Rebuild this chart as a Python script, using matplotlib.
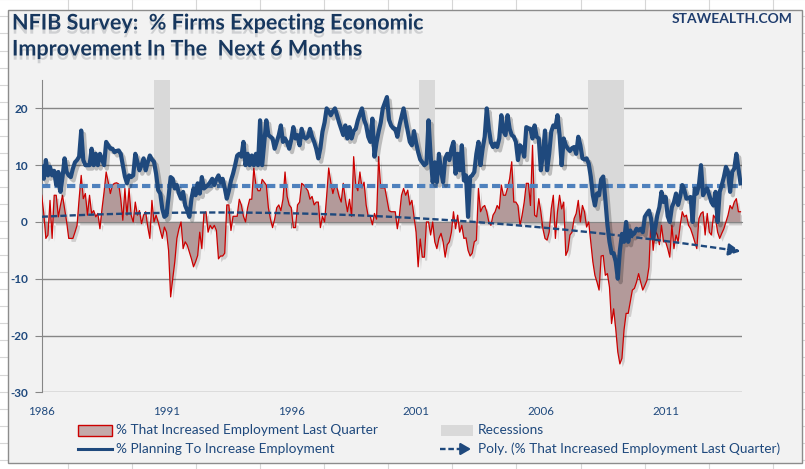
import numpy as np
import matplotlib
matplotlib.use("Agg")
import matplotlib.pyplot as plt
import matplotlib.patheffects as pe
from matplotlib.patches import Rectangle
from matplotlib.lines import Line2D

plt.rcParams['axes.unicode_minus'] = False
plt.rcParams['lines.scale_dashes'] = False

# monthly NFIB readings, Jan 1986 .. Jan 2014
start_year = 1986
planning_to_hire = [
    9.7, 7.6, 10.9, 8.2, 9.7, 8.2, 9.0, 6.5, 8.8, 5.3, 7.9, 11.2,
    8.8, 8.2, 7.9, 9.4, 10.5, 10.9, 11.5, 16.1, 10.9, 10.0, 10.0, 10.0,
    12.9, 10.0, 12.0, 10.0, 12.0, 11.0, 10.0, 14.1, 13.5, 12.9, 12.9, 12.3,
    12.5, 12.6, 12.0, 10.0, 8.0, 6.8, 8.2, 7.9, 8.2, 12.0, 10.6, 9.1,
    10.0, 11.2, 9.1, 10.5, 11.7, 11.0, 10.6, 8.5, 5.6, 5.0, 2.3, 0.9,
    1.2, 4.4, 7.9, 7.6, 5.9, 6.5, 5.0, 4.1, 5.3, 2.9, 2.0, 0.9,
    4.1, 5.9, 4.7, 6.8, 5.0, 7.9, 5.9, 6.2, 6.5, 7.0, 7.6, 6.5,
    7.5, 8.2, 7.0, 7.6, 6.0, 4.1, 5.5, 7.3, 8.5, 10.0, 11.7, 12.0,
    11.5, 14.1, 10.0, 12.0, 10.0, 11.7, 10.0, 12.0, 10.0, 17.9, 10.0, 14.0,
    17.9, 15.3, 15.0, 14.7, 12.9, 14.1, 15.3, 17.0, 14.1, 14.7, 14.0, 12.9,
    14.5, 16.7, 14.7, 15.3, 13.5, 16.4, 15.0, 14.7, 15.0, 16.4, 15.0, 14.1,
    12.9, 11.2, 13.0, 15.9, 17.5, 20.0, 19.5, 18.8, 19.5, 20.0, 18.8, 17.5,
    16.4, 15.3, 17.0, 14.7, 16.7, 14.7, 16.0, 16.4, 17.9, 19.0, 20.0, 18.0,
    17.0, 15.0, 14.1, 18.2, 11.5, 14.0, 15.9, 17.5, 20.0, 21.0, 22.0, 18.0,
    17.0, 16.5, 16.4, 15.0, 17.0, 18.5, 20.0, 17.9, 16.0, 14.1, 13.5, 16.0,
    14.0, 12.3, 11.0, 10.5, 10.0, 10.3, 17.9, 11.7, 7.0, 10.5, 7.0, 12.0,
    9.0, 7.0, 11.2, 12.0, 10.9, 12.9, 14.1, 8.5, 12.0, 9.1, 13.5, 7.3,
    8.2, 0.9, 7.9, 8.2, 8.8, 12.0, 14.1, 10.0, 12.9, 15.0, 20.0, 16.4,
    14.0, 13.2, 13.8, 13.2, 14.7, 18.8, 16.0, 15.3, 18.8, 16.4, 15.3, 15.0,
    14.1, 10.9, 13.5, 13.0, 11.5, 16.7, 16.5, 16.4, 14.7, 17.0, 15.0, 14.7,
    9.1, 12.0, 16.1, 9.1, 12.0, 15.9, 17.0, 16.7, 18.8, 15.3, 10.0, 14.7,
    13.5, 12.9, 12.5, 13.0, 13.2, 12.0, 15.0, 13.5, 11.2, 11.0, 11.2, 10.3,
    8.0, 4.7, 2.9, 5.0, 4.7, 7.5, 8.0, 4.0, -0.5, -3.5, -5.5, -5.5,
    -7.0, -10.0, -5.0, -2.1, -3.5, 0.0, -3.5, -1.5, -2.3, -2.0, -1.2, -1.5,
    -1.2, -1.8, 0.9, 1.5, 2.0, 0.6, -2.9, -1.0, 1.2, 2.6, 5.3, 3.5,
    4.4, 1.0, 0.0, 2.6, 3.5, 5.0, 3.0, 4.5, 6.5, 5.6, 4.1, 4.2,
    4.4, 0.0, 5.9, 5.0, 6.5, 10.0, 4.7, 5.5, 5.9, 4.7, 3.5, 2.9,
    5.3, 0.0, 5.3, 6.5, 7.9, 9.7, 8.8, 5.3, 8.8, 9.4, 12.0, 9.4,
    6.8,
]
increased_last_qtr = [
    4.7, 1.5, -2.9, -2.3, 3.8, -2.9, 4.7, 4.7, 0.9, 2.9, 4.7, 2.3,
    0.0, -2.9, -2.9, -2.9, -1.8, -0.6, 4.1, 8.2, 4.1, 5.0, 1.2, 4.7,
    1.5, 2.0, 0.9, 1.5, -1.2, 2.3, 5.3, 8.8, 7.0, 5.0, 6.5, 6.8,
    6.9, 6.7, 4.1, 0.3, 5.9, 1.2, 5.9, 1.2, 0.0, 3.5, 1.2, 2.0,
    -0.3, 1.2, 1.8, -0.9, -2.9, 3.8, 0.0, 1.2, 0.0, -1.5, -2.9, -0.9,
    -1.8, -5.0, -13.2, -10.0, -7.0, -2.9, -1.2, 0.0, -4.7, -3.5, -4.1, -5.3,
    -6.5, -7.9, -7.0, -5.9, -1.8, -4.7, 1.5, 1.8, -1.8, -0.6, -1.2, -0.6,
    -1.5, -6.5, -6.0, -6.0, -5.5, 3.0, 3.0, -1.5, 1.0, 1.0, 1.0, 4.0,
    3.0, 1.0, 0.0, 2.5, 4.0, 4.0, 9.5, 6.5, 5.5, 5.5, 7.5, 7.0,
    6.5, 2.5, 0.5, -1.0, 0.5, 2.5, 3.0, 2.0, 4.0, 8.8, 4.5, 3.0,
    2.5, -1.0, -1.0, 3.0, 3.5, 6.8, 6.5, 6.0, 5.5, 4.0, 4.5, 3.0,
    3.5, 3.5, -1.0, 1.0, 0.0, 4.5, 9.5, 7.0, 5.0, 6.5, 6.0, 4.5,
    3.5, 6.8, 4.0, 1.8, 4.0, 1.0, 11.5, 6.5, 5.5, 8.8, 6.0, 7.0,
    3.0, 1.0, 1.0, -0.5, 1.5, 0.5, 11.5, 6.0, 6.0, 6.0, 4.0, 2.0,
    1.8, 1.8, 1.8, -1.2, 1.2, 4.7, 5.9, 4.7, 5.6, 3.0, 3.8, 1.0,
    -1.8, -7.9, -3.0, -6.2, -6.2, 0.0, 0.0, -2.3, 0.0, -3.5, -4.7, -2.9,
    -2.0, -3.5, -6.2, -4.0, -3.5, -1.8, 1.8, -1.2, 1.2, -1.8, -0.6, -2.9,
    -2.8, -5.0, -6.0, -5.5, -3.5, -3.2, 5.9, 1.8, 2.6, 2.9, 1.8, 0.0,
    -0.6, 1.2, 1.8, 2.9, 2.3, 6.5, 4.7, 4.7, 6.0, 7.6, 10.6, 3.5,
    3.5, 2.9, -0.6, 1.2, 3.5, 6.8, 6.8, 2.9, 13.5, 1.2, 0.9, 4.1,
    1.8, -1.2, -2.9, -3.2, -1.8, 2.3, 4.7, -2.9, 1.8, 4.7, 2.3, 3.5,
    -5.9, -5.0, -2.3, -1.8, 0.6, 1.5, 3.8, 0.0, 2.9, 1.8, -0.9, 0.0,
    -3.5, -7.0, -9.4, -10.6, -12.0, -6.0, -5.9, -9.4, -9.1, -11.5, -17.9, -15.3,
    -18.8, -22.9, -25.0, -24.0, -19.0, -16.1, -16.1, -14.1, -12.0, -11.7, -10.6, -9.1,
    -10.6, -12.0, -11.2, -10.3, -7.9, 0.9, -5.0, -1.5, -2.3, -4.0, -0.6, -3.5,
    -3.5, -4.7, -6.2, -0.6, -4.7, -2.3, -3.5, -0.6, 1.8, 0.9, 1.2, -0.6,
    -1.2, -2.3, -3.5, -4.7, 0.6, 1.5, 1.8, -2.3, 1.5, -1.8, -2.3, 1.2,
    0.6, -1.8, -2.9, -2.0, -1.2, 0.0, 1.2, 2.9, 2.3, 3.5, 4.1, 1.8,
    1.8,
]
recession_start = [1990.50, 2001.13, 2007.87]
recession_end = [1991.14, 2001.77, 2009.35]
recession_top = 25
hiring_avg = 6.3
year_ticks = [1986, 1991, 1996, 2001, 2006, 2011]
y_ticks = [-30, -20, -10, 0, 10, 20]

navy = "#1f497d"
light_blue = "#4f81bd"
red = "#cc0000"
fill_col = "#b39a9a"
grid_col = "#868686"
rec_col = "#d9d9d9"
bg = "#f2f2f2"
lato = ["Lato", "DejaVu Sans"]

W, H = 805, 469
fig = plt.figure(figsize=(W / 100, H / 100), dpi=100, facecolor="white")


def fx(p):
    return p / W


def fy(p):
    return 1 - p / H


# worksheet cells behind the chart
for cx in np.arange(68, W, 64.07):
    fig.add_artist(Line2D([fx(cx)] * 2, [0, 1], color="#d6d6d6", lw=0.8, zorder=0))
for cy in np.arange(101.7 - 17.05 * 6, H, 17.05):
    fig.add_artist(Line2D([0, 1], [fy(cy)] * 2, color="#d6d6d6", lw=0.8, zorder=0))
fig.add_artist(Rectangle((fx(8), fy(463)), fx(802) - fx(8), fy(10) - fy(463),
                         transform=fig.transFigure, facecolor=bg, edgecolor="#8c8c8c",
                         lw=1, zorder=1))

ax = fig.add_axes([fx(41.7), fy(392.3), fx(742) - fx(41.7), fy(80) - fy(392.3)])
ax.set_zorder(2)
ax.patch.set_visible(False)

x = start_year + np.arange(len(planning_to_hire)) / 12.0
red_vals = np.array(increased_last_qtr)

shadow_line = [pe.SimpleLineShadow(offset=(2, -2.5), shadow_color="black", alpha=0.22), pe.Normal()]

for s, e in zip(recession_start, recession_end):
    ax.bar(s, recession_top, width=e - s, bottom=0, align="edge", color=rec_col, zorder=1)

fill = ax.fill_between(x, red_vals, 0, color=fill_col, lw=0, zorder=2)
fill.set_path_effects([pe.SimplePatchShadow(offset=(2, -2.5), alpha=0.18), pe.Normal()])
ax.plot(x, red_vals, color=red, lw=0.9, zorder=3)

ax.axhline(hiring_avg, color=light_blue, lw=3, dashes=(6, 3), zorder=4)
ax.plot(x, planning_to_hire, color=navy, lw=3, zorder=5, solid_joinstyle="round",
        path_effects=shadow_line)

# Excel-style poly (order 2) trendline of the employment change series
coef = np.polyfit(x, red_vals, 2)
trend = np.polyval(coef, x)
ax.plot(x[:-6], trend[:-6], color=navy, lw=1.7, dashes=(4.5, 2.2), zorder=6)
ax.annotate("", xy=(x[-1], trend[-1]), xytext=(x[-7], trend[-7]),
            arrowprops=dict(arrowstyle="-|>,head_length=0.7,head_width=0.35", color=navy,
                            lw=1.7, linestyle=(0, (4.5, 2.2)), shrinkA=0, shrinkB=0),
            zorder=6)

ax.set_xlim(1986, 2014.06)
ax.set_ylim(-30, 25)
ax.set_yticks(y_ticks)
ax.yaxis.grid(True, color=grid_col, lw=1)
ax.set_axisbelow(True)
for side in ["top", "right"]:
    ax.spines[side].set_visible(False)
ax.spines["left"].set_color(grid_col)
ax.spines["bottom"].set_position(("data", 0))
ax.spines["bottom"].set_color(grid_col)
ax.set_xticks(year_ticks)
ax.tick_params(axis="x", length=4, color=grid_col, labelbottom=False)
ax.tick_params(axis="y", length=5, color=grid_col, pad=5, labelcolor=navy)
for lab in ax.get_yticklabels():
    lab.set_family(lato)
    lab.set_fontweight("bold")
    lab.set_fontsize(8.5)

sec = ax.secondary_xaxis(0)
sec.set_xticks(year_ticks)
sec.tick_params(length=0, pad=10, labelcolor=navy)
sec.spines["bottom"].set_visible(False)
for lab in sec.get_xticklabels():
    lab.set_family(lato)
    lab.set_fontsize(8.3)

# titles
title_fx = [pe.withSimplePatchShadow(offset=(0, -3), alpha=0.15)]
fig.text(fx(12), fy(29.5), "NFIB Survey:  % Firms Expecting Economic", family=lato,
         fontweight="bold", fontsize=15.5, color="#17375e", va="baseline", zorder=3,
         path_effects=title_fx)
fig.text(fx(12), fy(55.5), "Improvement In The  Next 6 Months", family=lato,
         fontweight="bold", fontsize=15.5, color="#17375e", va="baseline", zorder=3,
         path_effects=title_fx)
fig.text(fx(793), fy(22.7), "STAWEALTH.COM", family=lato, fontweight="bold",
         fontsize=10, color="#1f3d6e", ha="right", va="baseline", zorder=3)

# legend
fig.add_artist(Rectangle((fx(78), fy(435.5)), fx(112) - fx(78), fy(425) - fy(435.5),
                         transform=fig.transFigure, facecolor="#c4aaaa", edgecolor=red,
                         lw=1, zorder=3))
fig.add_artist(Rectangle((fx(441), fy(436)), fx(473) - fx(441), fy(425) - fy(436),
                         transform=fig.transFigure, facecolor=rec_col, lw=0, zorder=3))
fig.add_artist(Line2D([fx(78), fx(112)], [fy(449)] * 2, color=navy, lw=2.2, zorder=3))
fig.add_artist(Line2D([fx(440), fx(462)], [fy(449)] * 2, color=navy, lw=1.7,
                      dashes=(4, 2), zorder=3))
ax.annotate("", xy=(fx(471), fy(449)), xytext=(fx(461), fy(449)), xycoords="figure fraction",
            arrowprops=dict(arrowstyle="-|>,head_length=0.6,head_width=0.35", color=navy,
                            lw=1.7, shrinkA=0, shrinkB=0), annotation_clip=False)
leg_items = [
    (116, 430, "% That Increased Employment Last Quarter"),
    (478, 430, "Recessions"),
    (116, 449, "% Planning To Increase Employment"),
    (478, 449, "Poly. (% That Increased Employment Last Quarter)"),
]
for lx, ly, txt in leg_items:
    fig.text(fx(lx), fy(ly), txt, family=lato, fontsize=9.8, color=navy,
             va="center", ha="left", zorder=3)

fig.savefig("out.png", dpi=100, facecolor="white")
